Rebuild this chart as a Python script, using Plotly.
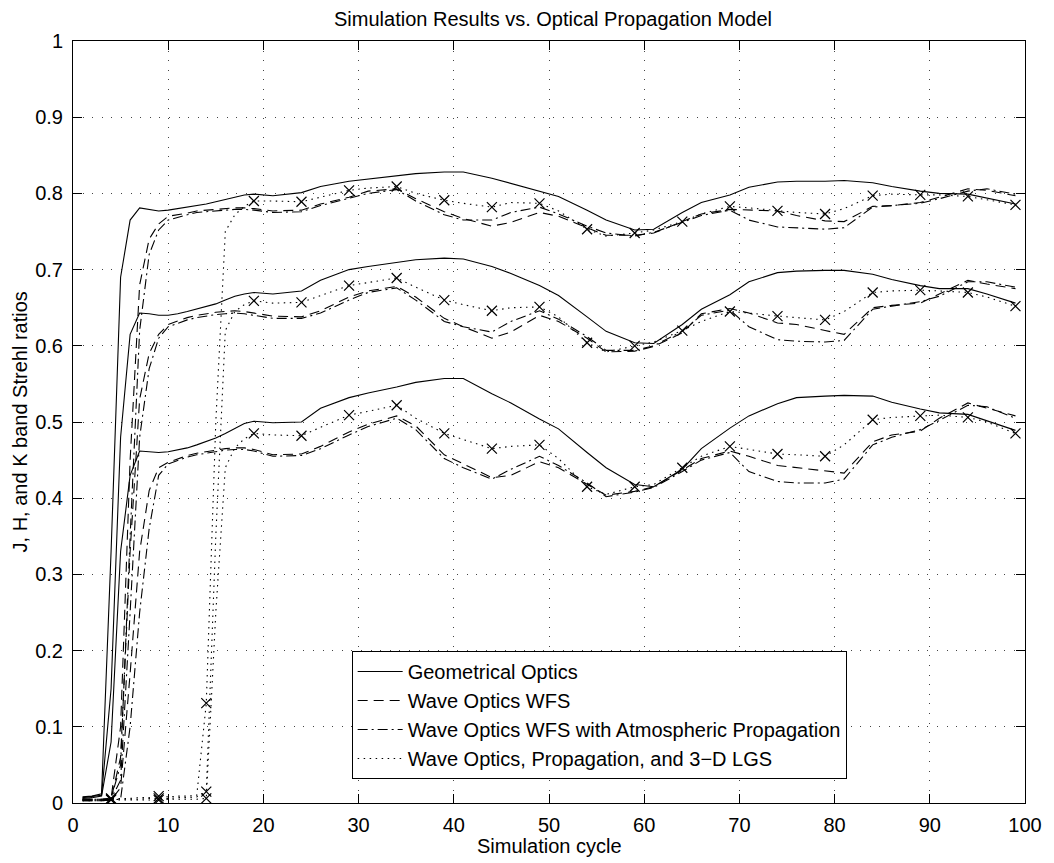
import plotly.graph_objects as go

# Simulation cycles at which values were read
cycles = list(range(1, 20)) + [21, 24, 26, 29, 31, 34, 36, 39, 41, 44, 46, 49, 51, 54, 56, 59,
                               61, 64, 66, 69, 71, 74, 76, 79, 81, 84, 86, 89, 91, 94, 96, 99]

# ---- K band (upper group) ----
geo_K = [0.008, 0.009, 0.012, 0.33, 0.69, 0.765, 0.781, 0.779, 0.777, 0.778, 0.780, 0.782, 0.784, 0.786, 0.789, 0.792, 0.795, 0.798, 0.799,
         0.797, 0.801, 0.809, 0.816, 0.819, 0.823, 0.826, 0.828, 0.828, 0.820, 0.813, 0.803, 0.796, 0.778, 0.765, 0.752,
         0.753, 0.775, 0.788, 0.798, 0.808, 0.815, 0.816, 0.816, 0.817, 0.814, 0.809, 0.803, 0.800, 0.799, 0.794, 0.786]
wave_K = [0.005, 0.005, 0.005, 0.006, 0.10, 0.45, 0.68, 0.74, 0.76, 0.77, 0.772, 0.774, 0.777, 0.778, 0.779, 0.780, 0.781, 0.781, 0.780,
          0.777, 0.778, 0.786, 0.795, 0.803, 0.806, 0.793, 0.776, 0.767, 0.757, 0.762, 0.775, 0.770, 0.755, 0.745, 0.745,
          0.748, 0.763, 0.773, 0.779, 0.778, 0.777, 0.771, 0.764, 0.763, 0.783, 0.784, 0.788, 0.795, 0.806, 0.804, 0.797]
atm_K = [0.005, 0.005, 0.005, 0.006, 0.05, 0.35, 0.62, 0.72, 0.752, 0.765, 0.769, 0.772, 0.775, 0.776, 0.777, 0.778, 0.779, 0.779, 0.778,
         0.775, 0.776, 0.784, 0.793, 0.800, 0.805, 0.790, 0.772, 0.765, 0.765, 0.775, 0.782, 0.773, 0.757, 0.748, 0.744,
         0.749, 0.762, 0.771, 0.778, 0.765, 0.756, 0.755, 0.753, 0.755, 0.782, 0.784, 0.787, 0.793, 0.803, 0.806, 0.799]
lgs_K = [0.005, 0.005, 0.005, 0.006, 0.006, 0.006, 0.007, 0.007, 0.009, 0.008, 0.009, 0.009, 0.010, 0.131, 0.50, 0.75, 0.772, 0.783, 0.790,
         0.790, 0.789, 0.795, 0.804, 0.807, 0.809, 0.800, 0.791, 0.787, 0.782, 0.788, 0.787, 0.777, 0.753, 0.744, 0.748,
         0.752, 0.763, 0.773, 0.783, 0.781, 0.777, 0.775, 0.773, 0.780, 0.797, 0.799, 0.798, 0.798, 0.796, 0.792, 0.785]

# ---- H band (middle group) ----
geo_H = [0.007, 0.008, 0.010, 0.15, 0.48, 0.615, 0.643, 0.642, 0.640, 0.640, 0.642, 0.645, 0.648, 0.651, 0.655, 0.660, 0.665, 0.668, 0.670,
         0.668, 0.672, 0.686, 0.700, 0.704, 0.710, 0.713, 0.715, 0.714, 0.704, 0.695, 0.679, 0.666, 0.638, 0.619, 0.604,
         0.603, 0.628, 0.648, 0.667, 0.684, 0.696, 0.698, 0.699, 0.699, 0.694, 0.687, 0.679, 0.675, 0.675, 0.668, 0.656]
wave_H = [0.004, 0.004, 0.004, 0.005, 0.06, 0.33, 0.53, 0.59, 0.615, 0.628, 0.633, 0.637, 0.640, 0.642, 0.644, 0.645, 0.646, 0.645, 0.643,
          0.639, 0.638, 0.646, 0.664, 0.672, 0.678, 0.664, 0.636, 0.625, 0.610, 0.618, 0.640, 0.632, 0.610, 0.592, 0.593,
          0.599, 0.617, 0.642, 0.649, 0.643, 0.630, 0.628, 0.620, 0.615, 0.650, 0.653, 0.656, 0.668, 0.686, 0.681, 0.675]
atm_H = [0.004, 0.004, 0.004, 0.005, 0.03, 0.25, 0.48, 0.57, 0.61, 0.625, 0.630, 0.634, 0.637, 0.639, 0.641, 0.642, 0.643, 0.642, 0.640,
         0.636, 0.636, 0.643, 0.660, 0.670, 0.676, 0.660, 0.632, 0.625, 0.618, 0.632, 0.646, 0.635, 0.612, 0.594, 0.594,
         0.600, 0.619, 0.640, 0.647, 0.625, 0.608, 0.606, 0.605, 0.607, 0.648, 0.652, 0.658, 0.665, 0.684, 0.684, 0.677]
lgs_H = [0.004, 0.004, 0.004, 0.005, 0.005, 0.005, 0.005, 0.006, 0.006, 0.006, 0.007, 0.007, 0.008, 0.015, 0.35, 0.62, 0.645, 0.654, 0.659,
         0.656, 0.657, 0.666, 0.679, 0.683, 0.689, 0.677, 0.660, 0.654, 0.646, 0.650, 0.651, 0.638, 0.604, 0.592, 0.600,
         0.605, 0.620, 0.632, 0.645, 0.643, 0.639, 0.637, 0.634, 0.645, 0.670, 0.672, 0.673, 0.672, 0.670, 0.664, 0.652]

# ---- J band (lower group) ----
geo_J = [0.006, 0.007, 0.009, 0.08, 0.33, 0.43, 0.462, 0.461, 0.460, 0.461, 0.463, 0.466, 0.470, 0.474, 0.479, 0.485, 0.492, 0.498, 0.501,
         0.499, 0.500, 0.518, 0.532, 0.538, 0.546, 0.552, 0.557, 0.557, 0.537, 0.525, 0.504, 0.491, 0.460, 0.440, 0.418,
         0.415, 0.438, 0.465, 0.492, 0.508, 0.524, 0.532, 0.534, 0.535, 0.534, 0.526, 0.517, 0.512, 0.510, 0.502, 0.489]
wave_J = [0.003, 0.003, 0.003, 0.004, 0.02, 0.17, 0.33, 0.41, 0.44, 0.447, 0.452, 0.456, 0.459, 0.461, 0.463, 0.465, 0.466, 0.466, 0.464,
          0.457, 0.458, 0.468, 0.487, 0.497, 0.508, 0.495, 0.457, 0.445, 0.427, 0.430, 0.448, 0.440, 0.418, 0.404, 0.409,
          0.415, 0.437, 0.452, 0.462, 0.455, 0.443, 0.440, 0.436, 0.433, 0.474, 0.483, 0.488, 0.505, 0.525, 0.518, 0.508]
atm_J = [0.003, 0.003, 0.003, 0.004, 0.005, 0.10, 0.25, 0.36, 0.43, 0.445, 0.450, 0.454, 0.457, 0.459, 0.461, 0.463, 0.464, 0.464, 0.462,
         0.455, 0.456, 0.465, 0.483, 0.494, 0.505, 0.490, 0.452, 0.440, 0.425, 0.438, 0.455, 0.443, 0.420, 0.402, 0.408,
         0.414, 0.435, 0.450, 0.460, 0.435, 0.422, 0.420, 0.420, 0.425, 0.470, 0.480, 0.490, 0.502, 0.522, 0.520, 0.505]
lgs_J = [0.003, 0.003, 0.003, 0.004, 0.004, 0.004, 0.004, 0.004, 0.004, 0.005, 0.005, 0.005, 0.005, 0.006, 0.25, 0.44, 0.466, 0.478, 0.485,
         0.483, 0.482, 0.493, 0.509, 0.514, 0.522, 0.505, 0.485, 0.477, 0.465, 0.468, 0.470, 0.452, 0.415, 0.405, 0.415,
         0.418, 0.440, 0.455, 0.468, 0.464, 0.458, 0.457, 0.455, 0.470, 0.503, 0.506, 0.508, 0.509, 0.506, 0.500, 0.485]

marker_cycles = list(range(4, 100, 5))

series_names = ["Geometrical Optics",
                "Wave Optics WFS",
                "Wave Optics WFS with Atmospheric Propagation",
                "Wave Optics, Propagation, and 3\u2212D LGS"]
x_ticks = list(range(0, 101, 10))
x_ticktext = [str(v) for v in x_ticks]
y_ticks = [i / 10 for i in range(11)]
y_ticktext = ["0", "0.1", "0.2", "0.3", "0.4", "0.5", "0.6", "0.7", "0.8", "0.9", "1"]

FONT = "Liberation Sans, Arial, Helvetica, sans-serif"
FS = 20
dashes = ["solid", "10px,6px", "10px,4px,2px,4px", "1.5px,4.5px"]

groups = [
    [geo_K, geo_H, geo_J],
    [wave_K, wave_H, wave_J],
    [atm_K, atm_H, atm_J],
    [lgs_K, lgs_H, lgs_J],
]

fig = go.Figure()
for gi, (name, band_list) in enumerate(zip(series_names, groups)):
    for bi, vals in enumerate(band_list):
        fig.add_trace(go.Scatter(
            x=cycles, y=vals, mode="lines", name=name,
            legendgroup=name, showlegend=(bi == 0),
            line=dict(color="black", width=1.1, dash=dashes[gi]),
            hoverinfo="skip",
        ))

# x markers on the 3-D LGS curves
for vals in [lgs_K, lgs_H, lgs_J]:
    mv = [vals[cycles.index(c)] for c in marker_cycles]
    fig.add_trace(go.Scatter(
        x=marker_cycles, y=mv, mode="markers", showlegend=False,
        marker=dict(symbol="x-thin", size=10, color="black",
                    line=dict(color="black", width=1.2)),
        hoverinfo="skip",
    ))

axis_common = dict(
    showline=True, linecolor="black", linewidth=1, mirror="allticks",
    ticks="inside", ticklen=9, tickcolor="black", tickwidth=1,
    showgrid=True, gridcolor="#444", gridwidth=1, griddash="1px,8.6px",
    zeroline=False, tickfont=dict(family=FONT, size=FS, color="black"),
)

fig.update_layout(
    width=1054, height=863,
    margin=dict(l=73, r=21, t=41, b=60),
    paper_bgcolor="white", plot_bgcolor="white",
    font=dict(family=FONT, size=FS, color="black"),
    title=dict(text="Simulation Results vs. Optical Propagation Model",
               x=(73 + 1033) / 2 / 1054, xanchor="center",
               y=1 - 19 / 863, yanchor="middle", yref="container",
               font=dict(family=FONT, size=FS, color="black")),
    xaxis=dict(range=[0, 100], tickvals=x_ticks, ticktext=x_ticktext,
               ticklabelstandoff=4, **axis_common),
    yaxis=dict(range=[0, 1], tickvals=y_ticks, ticktext=y_ticktext,
               ticklabelstandoff=5, **axis_common),
    legend=dict(x=(354 - 73) / 960, y=(803 - 651) / 762, xanchor="left", yanchor="top",
                bgcolor="white", bordercolor="black", borderwidth=1,
                font=dict(family=FONT, size=FS, color="black"),
                itemwidth=45, tracegroupgap=0),
    showlegend=True,
)

fig.add_annotation(text="Simulation cycle", xref="paper", yref="paper",
                   x=0.5, y=-(846 - 803) / 762, xanchor="center", yanchor="middle",
                   showarrow=False, font=dict(family=FONT, size=FS, color="black"))
fig.add_annotation(text="J, H, and K band Strehl ratios", xref="paper", yref="paper",
                   x=-(73 - 20) / 960, y=0.5, xanchor="center", yanchor="middle",
                   textangle=-90, showarrow=False,
                   font=dict(family=FONT, size=FS, color="black"))

fig.write_html("out.html")
